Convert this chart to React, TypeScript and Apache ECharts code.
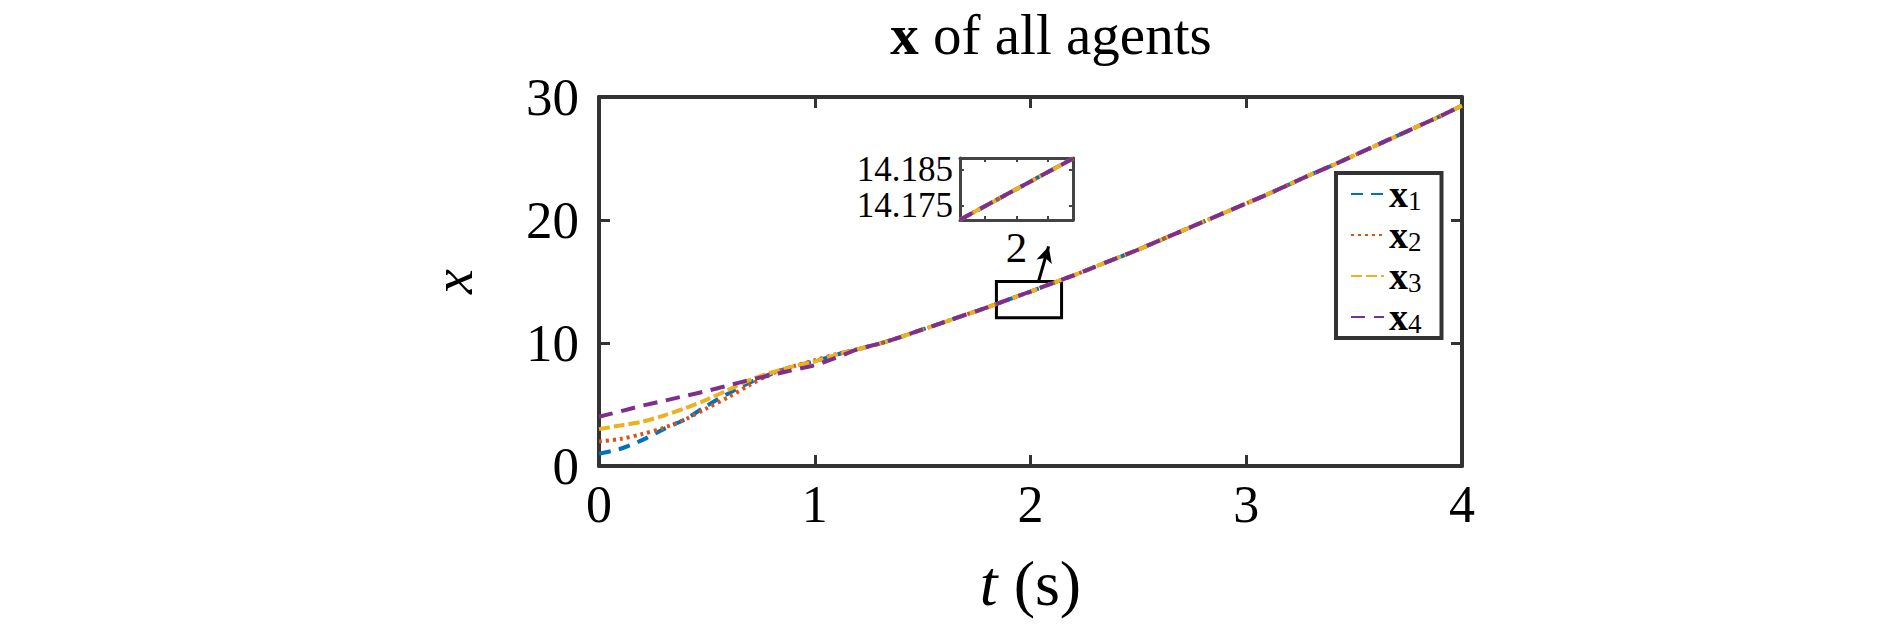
import React, { useEffect, useRef } from 'react';
import * as echarts from 'echarts';

// ---------- data ----------
const tHead = [0, 0.1, 0.2, 0.3, 0.4, 0.5, 0.6, 0.7, 0.8, 0.9, 1.0, 1.1];
const tTail = [1.2, 1.3, 1.4, 1.5, 1.6, 1.7, 1.8, 1.9, 2.0, 2.1, 2.2, 2.3, 2.4, 2.5, 2.6, 2.7, 2.8, 2.9, 3.0, 3.1, 3.2, 3.3, 3.4, 3.5, 3.6, 3.7, 3.8, 3.9, 4.0];

const x1Head = [1.0, 1.4, 2.1, 3.0, 3.8, 4.9, 5.9, 6.8, 7.5, 8.1, 8.5, 9.05];
const x2Head = [2.0, 2.2, 2.6, 3.1, 3.8, 4.7, 5.6, 6.6, 7.5, 8.1, 8.6, 9.1];
const x3Head = [3.0, 3.3, 3.6, 4.1, 4.7, 5.4, 6.2, 7.0, 7.6, 8.1, 8.5, 9.05];
const x4Head = [4.0, 4.45, 4.9, 5.3, 5.7, 6.1, 6.55, 7.0, 7.4, 7.8, 8.2, 8.8];
// after t = 1.2 s all four agents coincide
const sharedTail = [9.5, 9.95, 10.5, 11.1, 11.7, 12.3, 12.9, 13.55, 14.18, 14.85, 15.5, 16.2, 16.9, 17.6, 18.35, 19.1, 19.85, 20.6, 21.35, 22.1, 22.9, 23.7, 24.45, 25.25, 26.05, 26.85, 27.65, 28.45, 29.3];

const seriesNames = ['x1', 'x2', 'x3', 'x4'];
const heads = [x1Head, x2Head, x3Head, x4Head];

const xTicks = [0, 1, 2, 3, 4];
const yTicks = [0, 10, 20, 30];

// zoomed inset around t = 2 s
const insetT = [1.9991, 2.0009];
const insetX = [14.1712, 14.1882];
const insetXTicks = [1.9995, 2, 2.0005];
const insetYTicks = [14.175, 14.185];
const insetYRange = [14.17111, 14.18833];

// annotation: zoom rectangle and arrow (data coordinates)
const zoomBox = [[1.842, 12.06], [2.144, 15.0]];
const arrowLine = [[2.037, 15.0], [2.084, 17.85]];

// ---------- styles ----------
const SERIF = '"Liberation Serif", "Times New Roman", serif';
const AXIS = '#333333';
const colors = ['#0072BD', '#D95319', '#EDB120', '#7E2F8E'];
const dashes: number[][] = [[12, 8], [3, 4], [11, 4], [14, 9]];

export default function App() {
  const ref = useRef<HTMLDivElement>(null);

  useEffect(() => {
    const chart = echarts.init(ref.current!, null, { renderer: 'svg' });
    const tAll = tHead.concat(tTail);

    const mainSeries = seriesNames.map((name, i) => {
      const vals = heads[i].concat(sharedTail);
      const s: any = {
        name,
        type: 'line',
        xAxisIndex: 0,
        yAxisIndex: 0,
        data: tAll.map((t, k) => [t, vals[k]]),
        smooth: 0.3,
        symbol: 'none',
        z: 3 + i,
        lineStyle: { color: colors[i], width: 4, type: dashes[i] },
        itemStyle: { color: colors[i] },
      };
      if (i === 3) {
        s.markArea = {
          silent: true,
          itemStyle: { color: 'rgba(0,0,0,0)', borderColor: '#000', borderWidth: 3 },
          data: [[{ coord: zoomBox[0] }, { coord: zoomBox[1] }]],
        };
        s.markLine = {
          silent: true,
          symbol: ['none', 'arrow'],
          symbolSize: [12, 16],
          label: { show: false },
          lineStyle: { color: '#000', width: 3, type: 'solid' },
          data: [[{ coord: arrowLine[0] }, { coord: arrowLine[1] }]],
        };
      }
      return s;
    });

    const insetSeries = seriesNames.map((name, i) => ({
      name,
      type: 'line',
      xAxisIndex: 2,
      yAxisIndex: 2,
      data: insetT.map((t, k) => [t, insetX[k]]),
      symbol: 'none',
      z: 3 + i,
      lineStyle: { color: colors[i], width: 4, type: dashes[i] },
      itemStyle: { color: colors[i] },
    }));

    const axisLine = { show: true, onZero: false, lineStyle: { color: AXIS, width: 4 } };
    const tickIn = (len: number, w: number) => ({ show: true, inside: true, length: len, lineStyle: { color: AXIS, width: w } });
    const insetLine = { show: true, onZero: false, lineStyle: { color: '#444', width: 3 } };
    const insetYLabel = (vals: number[]) => ({
      fontFamily: SERIF, fontSize: 35, lineHeight: 30, color: '#000', margin: 7,
      showMinLabel: true, showMaxLabel: true, hideOverlap: false,
      customValues: vals, formatter: (v: number) => v.toFixed(3),
    });

    const option: any = {
      animation: false,
      backgroundColor: '#fff',
      title: {
        text: '{b|x} of all agents',
        left: 1046,
        top: 1,
        textAlign: 'center',
        textStyle: {
          fontFamily: SERIF,
          fontSize: 57,
          fontWeight: 'normal',
          color: '#000',
          rich: { b: { fontFamily: SERIF, fontSize: 57, fontWeight: 'bold', color: '#000' } },
        },
      },
      legend: {
        orient: 'vertical',
        left: 1336,
        top: 173,
        data: seriesNames,
        itemWidth: 33,
        itemHeight: 14,
        itemGap: 1,
        itemTextGap: 3,
        padding: [1, 20, 1, 14],
        borderColor: AXIS,
        borderWidth: 4,
        backgroundColor: '#fff',
        itemStyle: { opacity: 0 },
        formatter: (name: string) => `{b|x}{s|${name.slice(1)}}`,
        textStyle: {
          fontFamily: SERIF,
          fontSize: 26,
          lineHeight: 26,
          color: '#000',
          rich: {
            b: { fontFamily: SERIF, fontSize: 38, fontWeight: 'bold', color: '#000', lineHeight: 26 },
            s: { fontFamily: SERIF, fontSize: 27, color: '#000', lineHeight: 13, padding: [13, 0, 0, 0] },
          },
        },
      },
      grid: [
        { left: 599, top: 97, width: 863, height: 369, containLabel: false },
        { left: 960, top: 158, width: 113, height: 62, containLabel: false },
      ],
      xAxis: [
        {
          type: 'value', gridIndex: 0, min: xTicks[0], max: xTicks[xTicks.length - 1], interval: 1,
          position: 'bottom',
          axisLine, axisTick: tickIn(11, 3), splitLine: { show: false },
          axisLabel: { fontFamily: SERIF, fontSize: 52, color: '#000', margin: 12 },
          name: '{i|t} (s)', nameLocation: 'middle', nameGap: 85,
          nameTextStyle: {
            fontFamily: SERIF, fontSize: 64, color: '#000',
            rich: { i: { fontFamily: SERIF, fontSize: 64, fontStyle: 'italic', color: '#000' } },
          },
        },
        {
          type: 'value', gridIndex: 0, min: xTicks[0], max: xTicks[xTicks.length - 1], interval: 1,
          position: 'top',
          axisLine, axisTick: tickIn(11, 3), splitLine: { show: false }, axisLabel: { show: false },
        },
        {
          type: 'value', gridIndex: 1, min: insetT[0], max: insetT[1], position: 'bottom',
          axisLine: insetLine,
          axisTick: { show: true, inside: true, length: 4, customValues: insetXTicks, lineStyle: { color: '#444', width: 2 } },
          axisLabel: {
            fontFamily: SERIF, fontSize: 43, color: '#000', margin: 6,
            customValues: [2], formatter: (v: number) => String(Math.round(v)),
          },
          splitLine: { show: false },
        },
        {
          type: 'value', gridIndex: 1, min: insetT[0], max: insetT[1], position: 'top',
          axisLine: insetLine,
          axisTick: { show: true, inside: true, length: 4, customValues: insetXTicks, lineStyle: { color: '#444', width: 2 } },
          axisLabel: { show: false }, splitLine: { show: false },
        },
      ],
      yAxis: [
        {
          type: 'value', gridIndex: 0, min: yTicks[0], max: yTicks[yTicks.length - 1], interval: 10,
          position: 'left',
          axisLine, axisTick: tickIn(11, 3), splitLine: { show: false },
          axisLabel: { fontFamily: SERIF, fontSize: 53, color: '#000', margin: 20 },
          name: 'x', nameLocation: 'middle', nameGap: 118, nameRotate: 90,
          nameTextStyle: { fontFamily: SERIF, fontSize: 56, fontStyle: 'italic', color: '#000' },
        },
        {
          type: 'value', gridIndex: 0, min: yTicks[0], max: yTicks[yTicks.length - 1], interval: 10,
          position: 'right',
          axisLine, axisTick: tickIn(11, 3), splitLine: { show: false }, axisLabel: { show: false },
        },
        {
          type: 'value', gridIndex: 1, min: insetYRange[0], max: insetYRange[1], position: 'left',
          axisLine: insetLine,
          axisTick: { show: true, inside: true, length: 4, customValues: insetYTicks, lineStyle: { color: '#444', width: 2 } },
          axisLabel: insetYLabel([insetYTicks[0]]),
          splitLine: { show: false },
        },
        {
          type: 'value', gridIndex: 1, min: insetYRange[0], max: insetYRange[1], position: 'right',
          axisLine: insetLine,
          axisTick: { show: true, inside: true, length: 4, customValues: insetYTicks, lineStyle: { color: '#444', width: 2 } },
          axisLabel: { show: false }, splitLine: { show: false },
        },
        {
          type: 'value', gridIndex: 1, min: insetYRange[0], max: insetYRange[1], position: 'left',
          axisLine: { show: false }, axisTick: { show: false },
          axisLabel: insetYLabel([insetYTicks[1]]),
          splitLine: { show: false },
        },
      ],
      series: [...mainSeries, ...insetSeries],
    };

    chart.setOption(option);
    return () => chart.dispose();
  }, []);

  return (
    <div
      ref={ref}
      style={{ position: 'fixed', left: 0, top: 0, width: 1890, height: 626, background: '#fff' }}
    />
  );
}
